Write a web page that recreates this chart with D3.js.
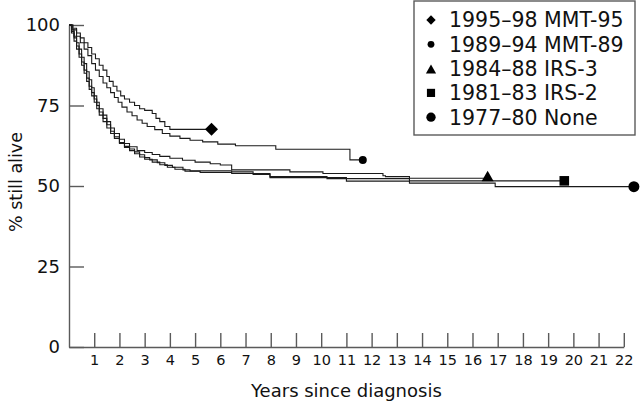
<!DOCTYPE html>
<html>
<head>
<meta charset="utf-8">
<script src="https://cdn.jsdelivr.net/npm/d3@7"></script>
<style>
  html, body { margin: 0; padding: 0; background: #fff; }
  svg { display: block; }
  text { font-family: "DejaVu Sans", sans-serif; fill: #111; }
</style>
</head>
<body>
<svg id="chart" width="640" height="405"></svg>
<script>
// ---- Data ----
const seriesNames = ["1995\u201398 MMT-95", "1989\u201394 MMT-89", "1984\u201388 IRS-3", "1981\u201383 IRS-2", "1977\u201380 None"];
const markerTypes = ["diamond", "smallcircle", "triangle", "square", "circle"];

// step points: [years, % still alive]
const mmt95 = [[0,100],[0.15,99],[0.3,97.5],[0.45,96],[0.6,94.5],[0.75,93],[0.9,91],[1.05,89.5],[1.2,87.5],[1.35,86],[1.5,84],[1.6,82.5],[1.75,81],[1.9,79.5],[2.05,78],[2.2,77],[2.4,76],[2.6,75],[2.8,74],[3.0,73.5],[3.3,72.5],[3.45,71],[3.6,70],[3.8,68.5],[4.0,67.6]];
const mmt89 = [[0,100],[0.15,98.5],[0.3,96.5],[0.45,94.5],[0.6,92.5],[0.75,90.5],[0.9,88],[1.05,86],[1.2,84],[1.35,82],[1.5,80.5],[1.65,79],[1.8,77.5],[1.95,76],[2.1,74.5],[2.3,73],[2.5,71.8],[2.7,70.5],[2.9,69.5],[3.1,68.5],[3.4,67.5],[3.7,66.3],[4.0,65.5],[4.4,64.8],[4.8,64.2],[5.3,63.7],[5.9,63.0],[6.6,62.5],[8.2,61.4],[11.14,58.1]];
const irs3 = [[0,100],[0.1,98.5],[0.2,96.5],[0.3,94.5],[0.4,92.5],[0.5,90],[0.6,88],[0.7,85.5],[0.8,83],[0.9,80.5],[1.0,78],[1.1,76],[1.2,74],[1.35,72],[1.5,70],[1.65,68],[1.8,66.3],[2.0,64.5],[2.2,63.2],[2.4,62.2],[2.7,61],[3.0,60.4],[3.3,59.8],[3.6,59.2],[4.0,58.6],[4.5,58],[5.0,57.4],[5.6,56.9],[6.0,56.5],[6.45,55.0],[8.76,54.4],[10.07,53.9],[12.45,53.2],[12.55,52.9],[13.5,52.4]];
const irs2 = [[0,100],[0.1,98],[0.2,96],[0.3,93.5],[0.4,91],[0.5,88.5],[0.6,86],[0.7,83.5],[0.8,81],[0.9,79],[1.0,77],[1.1,75],[1.2,73],[1.35,71],[1.5,69],[1.65,67],[1.8,65.3],[2.0,63.5],[2.2,62.3],[2.4,61.5],[2.6,60.6],[2.8,59.7],[3.0,58.8],[3.2,58.1],[3.5,57.2],[3.8,56.4],[4.1,55.8],[4.52,55.0],[4.8,54.7],[6.45,54.4],[7.3,53.6],[7.97,52.9],[10.23,52.3],[13.5,51.6]];
const none = [[0,100],[0.1,97.5],[0.2,95],[0.3,92.5],[0.4,90],[0.5,87.5],[0.6,85],[0.7,82.5],[0.8,80],[0.9,78],[1.0,76],[1.1,74],[1.2,72],[1.35,70],[1.5,68],[1.65,66.3],[1.8,64.8],[2.0,63.2],[2.2,62],[2.4,61],[2.6,60],[2.8,59],[3.0,58.3],[3.3,57.4],[3.6,56.6],[3.9,55.8],[4.2,55.2],[4.6,54.6],[5.2,54.2],[6.45,53.9],[7.97,52.6],[11.0,51.5],[13.5,50.9],[16.9,49.8]];
const seriesData = [mmt95, mmt89, irs3, irs2, none];
// follow-up end (years) where the marker sits
const endYears = [5.65, 11.65, 16.6, 19.64, 22.4];

const xTicks = d3.range(1, 23);
const yTicks = [0, 25, 50, 75, 100];

// ---- Layout ----
const svg = d3.select("#chart");
const x = d3.scaleLinear().domain([0, 22]).range([69, 623.8]);
const y = d3.scaleLinear().domain([0, 100]).range([347, 25]);

const axisColor = "#5a5a5a";

// x axis
const gx = svg.append("g").attr("transform", `translate(0,${y(0)})`)
  .call(d3.axisBottom(x).tickValues(xTicks).tickSizeInner(-14).tickSizeOuter(0).tickPadding(8));
gx.selectAll("text").style("font-size", "14.5px").attr("font-family", null);
// y axis
const gy = svg.append("g").attr("transform", `translate(${x(0)},0)`)
  .call(d3.axisLeft(y).tickValues(yTicks).tickSizeInner(-15).tickSizeOuter(0).tickPadding(9));
gy.selectAll("text").style("font-size", "18px").attr("font-family", null);
svg.selectAll(".domain, .tick line").attr("stroke", axisColor).attr("stroke-width", 1.4);
svg.selectAll(".tick text").attr("fill", "#111");

// axis titles
svg.append("text").attr("x", (x(0) + x(22)) / 2).attr("y", 397)
  .attr("text-anchor", "middle").style("font-size", "18px").text("Years since diagnosis");
svg.append("text").attr("transform", `translate(22,${y(50) - 4}) rotate(-90)`)
  .attr("text-anchor", "middle").style("font-size", "17.5px").text("% still alive");

// curves
const line = d3.line().x(d => x(d[0])).y(d => y(d[1])).curve(d3.curveStepAfter);
seriesData.forEach((pts, i) => {
  const full = pts.concat([[endYears[i], pts[pts.length - 1][1]]]);
  svg.append("path").datum(full).attr("d", line)
    .attr("fill", "none").attr("stroke", "#1a1a1a").attr("stroke-width", 1.1);
});

// markers
function marker(g, type, cx, cy, scale) {
  const s = scale;
  if (type === "diamond") {
    g.append("path").attr("d", `M${cx},${cy - 6.5 * s}L${cx + 6.5 * s},${cy}L${cx},${cy + 6.5 * s}L${cx - 6.5 * s},${cy}Z`).attr("fill", "#000");
  } else if (type === "smallcircle") {
    g.append("circle").attr("cx", cx).attr("cy", cy).attr("r", 4 * s).attr("fill", "#000");
  } else if (type === "triangle") {
    g.append("path").attr("d", `M${cx},${cy - 6 * s}L${cx + 6 * s},${cy + 4.5 * s}L${cx - 6 * s},${cy + 4.5 * s}Z`).attr("fill", "#000");
  } else if (type === "square") {
    g.append("rect").attr("x", cx - 4.8 * s).attr("y", cy - 4.8 * s).attr("width", 9.6 * s).attr("height", 9.6 * s).attr("fill", "#000");
  } else {
    g.append("circle").attr("cx", cx).attr("cy", cy).attr("r", 5.5 * s).attr("fill", "#000");
  }
}
const mg = svg.append("g");
seriesData.forEach((pts, i) => {
  const last = pts[pts.length - 1][1];
  const dy = markerTypes[i] === "triangle" ? -1.5 : 0;
  marker(mg, markerTypes[i], x(endYears[i]), y(last) + dy, 1);
});

// legend
const lg = svg.append("g");
lg.append("rect").attr("x", 414).attr("y", 1).attr("width", 221).attr("height", 134)
  .attr("fill", "#fff").attr("stroke", axisColor).attr("stroke-width", 1.4);
const legendScale = [0.72, 0.85, 0.85, 0.85, 0.85];
seriesNames.forEach((name, i) => {
  const cy = 20 + i * 24.3;
  marker(lg, markerTypes[i], 431, cy + (markerTypes[i] === "triangle" ? 1 : 0), legendScale[i]);
  lg.append("text").attr("x", 449).attr("y", cy).attr("dy", "0.36em")
    .style("font-size", "20.5px").text(name);
});
</script>
</body>
</html>
